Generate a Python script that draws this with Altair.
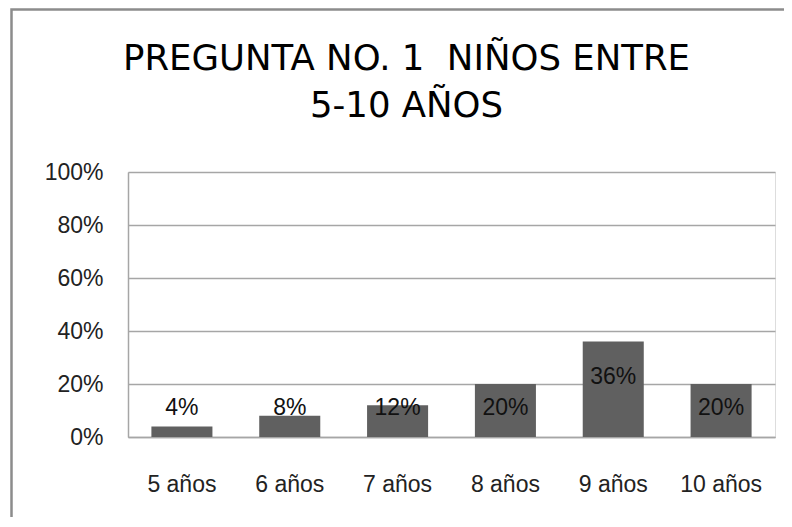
import altair as alt
import pandas as pd

categories = ["5 años", "6 años", "7 años", "8 años", "9 años", "10 años"]
values = [0.04, 0.08, 0.12, 0.20, 0.36, 0.20]
labels = ["4%", "8%", "12%", "20%", "36%", "20%"]
y_ticks = [0, 0.2, 0.4, 0.6, 0.8, 1.0]
title_lines = ["PREGUNTA NO. 1\u00a0 NIÑOS ENTRE", "5-10 AÑOS"]

df = pd.DataFrame({"cat": categories, "value": values, "label": labels})

LABEL_FONT = "Liberation Sans"
GRID = "#a6a6a6"

x_enc = alt.X(
    "cat:N", sort=categories, title=None,
    scale=alt.Scale(paddingInner=0.434, paddingOuter=0.217),
    axis=alt.Axis(labelAngle=0, labelFont=LABEL_FONT, labelFontSize=23,
                  labelColor="#222222", labelPadding=36, ticks=False,
                  domainColor=GRID, domainWidth=1.5, grid=False),
)
y_enc = alt.Y(
    "value:Q", title=None, scale=alt.Scale(domain=[0, 1]),
    axis=alt.Axis(values=y_ticks, format=".0%", labelFont=LABEL_FONT,
                  labelFontSize=23, labelColor="#222222", labelPadding=25,
                  ticks=False, domainColor=GRID, domainWidth=1.5,
                  gridColor=GRID, gridWidth=1.5),
)

border = alt.Chart(pd.DataFrame({"a": [0]})).mark_rect(
    fillOpacity=0, stroke="#8c8c8c", strokeWidth=2.5, clip=False
).encode(x=alt.value(-116.5), x2=alt.value(700),
         y=alt.value(-162.5), y2=alt.value(400))

bars = alt.Chart(df).mark_bar(color="#606060").encode(x=x_enc, y=y_enc)

text = alt.Chart(df).transform_calculate(
    pos="datum.value > 0.3 ? datum.value - 0.134 : 0.11"
).mark_text(font=LABEL_FONT, fontSize=23, color="#111111",
            baseline="middle").encode(
    x=alt.X("cat:N", sort=categories),
    y=alt.Y("pos:Q", title=None),
    text="label:N",
)

chart = alt.layer(border, bars, text).properties(
    width=647, height=265,
    title=alt.TitleParams(text=title_lines, font="DejaVu Sans", fontSize=35.5,
                          fontWeight="normal", color="#000000",
                          anchor="middle", dx=-45, lineHeight=47,
                          offset=-116),
    autosize=alt.AutoSizeParams(type="none"),
    padding={"left": 120, "top": 164, "right": 9, "bottom": 80},
).configure_view(stroke=None).configure(background="white")

chart.save("out.html", embed_options={"renderer": "svg", "actions": False})
